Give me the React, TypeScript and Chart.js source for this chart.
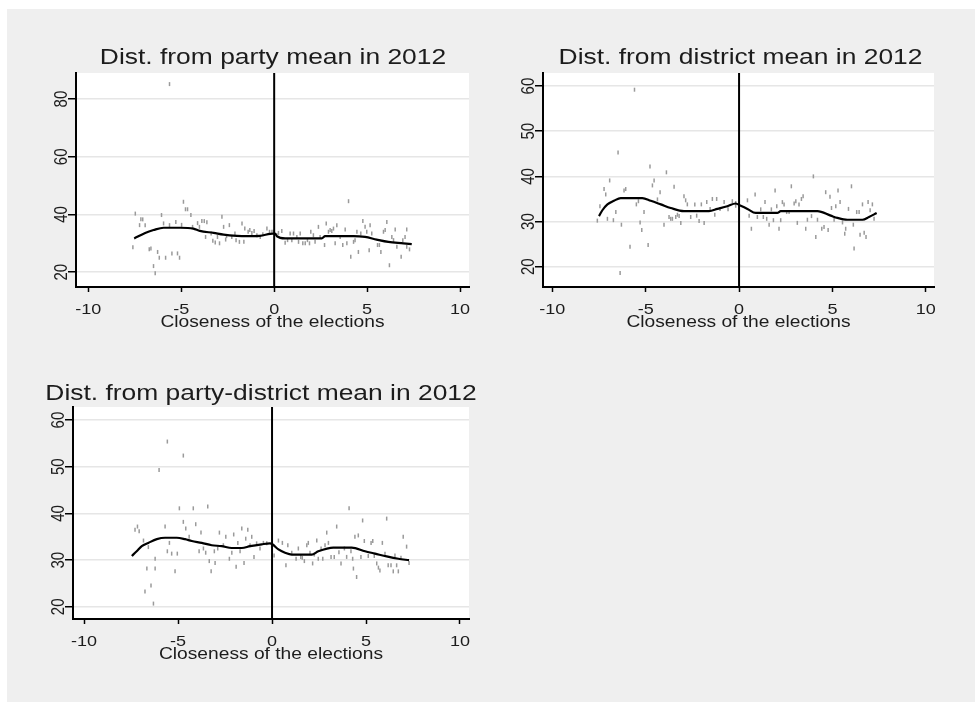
import React, { useEffect, useRef } from "react";
import Chart from "chart.js/auto";

type Pt = [number, number];

const FONT = '"Liberation Sans", Arial, sans-serif';
const X_TITLE = "Closeness of the elections";
const X_TICKS = [-10, -5, 0, 5, 10];
const Y_TICKS_PARTY = [20, 40, 60, 80];
const Y_TICKS_DISTRICT = [20, 30, 40, 50, 60];
const Y_TICKS_PD = [20, 30, 40, 50, 60];

const TITLE_PARTY = "Dist. from party mean in 2012";
const TITLE_DISTRICT = "Dist. from district mean in 2012";
const TITLE_PD = "Dist. from party-district mean in 2012";

const PARTY_POINTS: Pt[] = [
  [-7.6, 28.6], [-7.47, 40.3], [-7.24, 36.3], [-7.17, 38.3], [-7.07, 38.3], [-6.94, 36.3], [-6.72, 27.9], [-6.63, 28.2],
  [-6.49, 22.1], [-6.4, 19.6], [-6.27, 27.0], [-6.18, 25.0], [-6.06, 39.8], [-5.95, 36.9], [-5.84, 25.0], [-5.63, 36.3],
  [-5.63, 85.2], [-5.5, 26.5], [-5.29, 37.4], [-5.2, 26.5], [-5.09, 25.0], [-4.98, 36.4], [-4.88, 44.4], [-4.77, 41.8],
  [-4.66, 41.8], [-4.48, 39.8], [-4.39, 35.7], [-4.12, 37.0], [-4.02, 35.7], [-3.89, 37.7], [-3.76, 37.7], [-3.69, 32.2],
  [-3.62, 37.3], [-3.39, 33.4], [-3.3, 30.9], [-3.17, 30.3], [-3.05, 32.2], [-2.94, 30.0], [-2.81, 39.2], [-2.72, 35.7],
  [-2.61, 31.3], [-2.56, 32.5], [-2.41, 36.3], [-2.28, 32.2], [-2.11, 33.4], [-2.05, 31.1], [-1.87, 30.5], [-1.73, 36.9],
  [-1.63, 30.5], [-1.58, 35.1], [-1.4, 34.0], [-1.31, 34.6], [-1.2, 33.6], [-1.08, 34.3], [-0.93, 32.8], [-0.75, 32.2],
  [-0.61, 33.1], [-0.39, 35.1], [-0.25, 34.0], [-0.12, 34.0], [-0.04, 34.0], [0.15, 32.8], [0.23, 33.6], [0.41, 34.3],
  [0.59, 30.2], [0.72, 31.1], [0.86, 33.4], [0.95, 31.1], [1.04, 33.4], [1.22, 32.2], [1.31, 30.5], [1.4, 33.4],
  [1.54, 30.0], [1.67, 30.0], [1.79, 31.1], [1.9, 30.0], [1.97, 34.0], [2.11, 32.8], [2.2, 30.5], [2.38, 35.7],
  [2.47, 32.2], [2.71, 29.4], [2.8, 36.9], [2.92, 34.0], [3.01, 34.6], [3.1, 34.3], [3.19, 35.1], [3.28, 30.0],
  [3.37, 36.3], [3.55, 32.2], [3.69, 29.4], [3.82, 34.8], [3.91, 30.0], [4.0, 44.6], [4.12, 25.3], [4.27, 30.5],
  [4.35, 31.1], [4.45, 34.0], [4.53, 27.0], [4.66, 33.4], [4.77, 37.7], [4.89, 35.7], [4.98, 34.0], [5.11, 27.6],
  [5.16, 36.3], [5.25, 33.4], [5.56, 29.4], [5.66, 29.4], [5.74, 27.0], [5.88, 34.0], [5.97, 34.6], [6.06, 37.4],
  [6.2, 22.4], [6.33, 32.2], [6.42, 31.1], [6.51, 34.8], [6.6, 28.8], [6.83, 25.3], [6.92, 31.1], [7.04, 32.2],
  [7.13, 34.8], [7.13, 28.8], [7.28, 27.9],
];

const PARTY_SMOOTH: Pt[] = [
  [-7.53, 31.7], [-6.94, 33.6], [-6.49, 34.6], [-5.95, 35.4], [-5.05, 35.4], [-4.35, 35.1], [-4.0, 34.3], [-3.26, 33.6],
  [-2.72, 33.0], [-2.0, 32.6], [-1.47, 32.5], [-0.77, 32.6], [-0.22, 33.3], [0.05, 33.4], [0.14, 32.5], [0.59, 31.7],
  [1.58, 31.7], [2.56, 31.7], [2.74, 32.5], [3.37, 32.5], [4.27, 32.5], [4.89, 32.2], [5.51, 31.3], [6.14, 30.5],
  [6.95, 30.0], [7.4, 29.7],
];

const DISTRICT_POINTS: Pt[] = [
  [-7.59, 30.2], [-7.45, 33.4], [-7.23, 37.2], [-7.14, 36.0], [-7.05, 30.6], [-6.93, 39.1], [-6.73, 30.3], [-6.6, 32.1],
  [-6.48, 45.3], [-6.37, 18.6], [-6.3, 29.3], [-6.16, 36.9], [-6.07, 37.2], [-5.84, 24.4], [-5.6, 59.2], [-5.5, 33.8],
  [-5.39, 34.5], [-5.3, 29.8], [-5.21, 28.1], [-5.09, 32.1], [-4.87, 24.8], [-4.77, 42.2], [-4.64, 38.0], [-4.55, 39.1],
  [-4.37, 34.9], [-4.23, 36.5], [-4.02, 29.3], [-3.89, 40.9], [-3.75, 31.0], [-3.66, 30.6], [-3.57, 30.6], [-3.48, 37.7],
  [-3.39, 31.0], [-3.3, 31.5], [-3.21, 31.2], [-3.12, 29.7], [-2.95, 35.6], [-2.86, 34.7], [-2.77, 33.8], [-2.59, 31.0],
  [-2.37, 33.8], [-2.27, 31.3], [-2.14, 30.1], [-2.02, 33.8], [-1.87, 29.7], [-1.73, 34.3], [-1.55, 32.8], [-1.43, 35.0],
  [-1.3, 31.5], [-1.2, 35.0], [-1.02, 32.8], [-0.8, 34.3], [-0.59, 32.7], [-0.36, 34.5], [-0.18, 34.1], [-0.18, 33.5],
  [0.45, 34.7], [0.54, 31.3], [0.66, 28.4], [0.86, 36.0], [0.98, 31.0], [1.16, 32.7], [1.3, 31.0], [1.39, 34.3],
  [1.48, 30.6], [1.61, 29.3], [1.73, 32.7], [1.84, 30.3], [1.93, 36.9], [2.02, 33.4], [2.14, 28.4], [2.23, 30.3],
  [2.32, 34.3], [2.41, 33.8], [2.55, 32.1], [2.68, 32.1], [2.8, 37.8], [2.95, 34.0], [3.04, 34.5], [3.12, 29.7],
  [3.21, 33.8], [3.34, 35.0], [3.43, 35.6], [3.57, 28.4], [3.66, 30.4], [3.88, 31.2], [3.98, 40.0], [4.11, 26.6],
  [4.2, 30.4], [4.43, 28.4], [4.55, 28.8], [4.64, 36.5], [4.77, 28.1], [4.87, 35.5], [4.95, 33.0], [5.09, 30.4],
  [5.18, 33.4], [5.3, 36.9], [5.41, 34.3], [5.54, 29.8], [5.66, 27.3], [5.71, 28.4], [5.86, 32.8], [6.02, 37.8],
  [6.12, 29.3], [6.16, 24.0], [6.3, 32.1], [6.43, 32.1], [6.48, 27.1], [6.61, 33.8], [6.7, 27.5], [6.8, 26.6],
  [6.91, 34.3], [7.02, 32.5], [7.14, 33.8], [7.23, 30.6],
];

const DISTRICT_SMOOTH: Pt[] = [
  [-7.5, 31.2], [-7.32, 32.5], [-7.05, 33.8], [-6.7, 34.6], [-6.34, 35.2], [-5.8, 35.2], [-5.18, 35.2], [-4.73, 34.6],
  [-4.19, 33.8], [-3.66, 33.0], [-2.95, 32.3], [-2.23, 32.3], [-1.61, 32.3], [-1.16, 32.8], [-0.63, 33.4], [-0.18, 34.0],
  [0.09, 33.5], [0.45, 32.8], [0.89, 31.9], [2.05, 31.9], [2.23, 32.3], [3.3, 32.3], [4.2, 32.3], [4.91, 31.3],
  [5.27, 30.8], [5.8, 30.4], [6.61, 30.4], [6.96, 31.0], [7.37, 31.9],
];

const PD_POINTS: Pt[] = [
  [-7.29, 36.5], [-7.16, 37.2], [-7.07, 36.2], [-6.84, 34.2], [-6.76, 23.3], [-6.66, 28.2], [-6.58, 32.8], [-6.44, 24.6],
  [-6.31, 20.7], [-6.22, 30.3], [-6.22, 28.2], [-6.01, 49.3], [-5.69, 37.2], [-5.57, 55.4], [-5.57, 31.9], [-5.46, 33.7],
  [-5.34, 31.4], [-5.16, 27.6], [-5.04, 31.4], [-4.93, 41.1], [-4.72, 52.4], [-4.72, 38.2], [-4.59, 36.8], [-4.41, 35.0],
  [-4.19, 41.1], [-4.06, 37.7], [-3.88, 31.9], [-3.78, 35.9], [-3.65, 32.5], [-3.53, 31.6], [-3.42, 41.5], [-3.34, 29.8],
  [-3.24, 27.6], [-3.07, 31.9], [-3.03, 29.4], [-2.89, 32.5], [-2.8, 35.9], [-2.59, 33.2], [-2.46, 35.0], [-2.27, 30.3],
  [-2.14, 31.6], [-2.04, 35.5], [-1.91, 28.6], [-1.82, 33.7], [-1.7, 31.9], [-1.61, 36.8], [-1.49, 29.4], [-1.4, 34.6],
  [-1.29, 36.5], [-1.17, 33.2], [-1.08, 35.0], [-0.96, 30.7], [-0.82, 33.6], [-0.64, 32.5], [-0.46, 33.7], [-0.28, 33.6],
  [-0.02, 33.0], [0.11, 31.0], [0.34, 34.2], [0.55, 33.7], [0.74, 28.9], [0.84, 33.2], [1.05, 31.6], [1.28, 30.3],
  [1.4, 32.5], [1.53, 30.7], [1.61, 30.5], [1.72, 29.8], [1.85, 33.2], [1.93, 33.7], [2.02, 31.6], [2.16, 29.3],
  [2.25, 31.2], [2.38, 34.2], [2.46, 30.3], [2.61, 32.5], [2.7, 30.3], [2.82, 33.2], [2.91, 35.9], [3.0, 33.7],
  [3.14, 30.7], [3.31, 30.7], [3.44, 37.2], [3.56, 31.7], [3.67, 29.3], [3.85, 32.5], [3.97, 30.7], [4.1, 41.1],
  [4.2, 31.9], [4.29, 30.3], [4.33, 28.2], [4.41, 35.0], [4.5, 26.4], [4.59, 35.3], [4.73, 30.7], [4.82, 38.5],
  [4.91, 34.1], [5.12, 30.9], [5.27, 33.7], [5.36, 34.1], [5.44, 30.9], [5.57, 29.3], [5.66, 28.4], [5.74, 27.8],
  [5.87, 33.7], [6.01, 31.4], [6.1, 38.9], [6.18, 28.9], [6.33, 28.9], [6.45, 27.6], [6.54, 31.0], [6.63, 28.9],
  [6.72, 27.6], [6.86, 30.5], [6.98, 35.0], [7.16, 32.9], [7.29, 29.4],
];

const PD_SMOOTH: Pt[] = [
  [-7.46, 30.9], [-7.2, 31.9], [-6.93, 33.0], [-6.58, 33.7], [-6.13, 34.5], [-5.69, 34.8], [-5.07, 34.8], [-4.63, 34.5],
  [-4.27, 34.1], [-3.74, 33.7], [-3.21, 33.2], [-2.68, 33.0], [-2.14, 32.6], [-1.61, 32.6], [-1.17, 33.0], [-0.55, 33.4],
  [-0.11, 33.6], [0.02, 33.4], [0.34, 32.3], [0.69, 31.6], [1.05, 31.2], [2.11, 31.2], [2.46, 31.9], [3.26, 32.7],
  [4.24, 32.7], [4.95, 31.9], [5.48, 31.4], [6.1, 30.8], [6.72, 30.3], [7.29, 30.0],
];

interface PanelCfg {
  title: string;
  titleX: number;
  titleY: number;
  left: number;
  top: number;
  width: number;
  height: number;
  yAxisWidth: number;
  padTop: number;
  padRight: number;
  xMin: number;
  xMax: number;
  yMin: number;
  yMax: number;
  yTicks: number[];
  points: Pt[];
  smooth: Pt[];
}

const PANELS: PanelCfg[] = [
  {
    title: TITLE_PARTY, titleX: 253, titleY: 44,
    left: 20, top: 20, width: 480, height: 317, yAxisWidth: 56, padTop: 53, padRight: 31,
    xMin: -10.66, xMax: 10.48, yMin: 14.85, yMax: 89.05, yTicks: Y_TICKS_PARTY,
    points: PARTY_POINTS, smooth: PARTY_SMOOTH,
  },
  {
    title: TITLE_DISTRICT, titleX: 250.5, titleY: 44,
    left: 490, top: 20, width: 475, height: 317, yAxisWidth: 53, padTop: 53, padRight: 31,
    xMin: -10.5, xMax: 10.44, yMin: 15.5, yMax: 62.9, yTicks: Y_TICKS_DISTRICT,
    points: DISTRICT_POINTS, smooth: DISTRICT_SMOOTH,
  },
  {
    title: TITLE_PD, titleX: 241, titleY: 45,
    left: 20, top: 355, width: 480, height: 314, yAxisWidth: 53, padTop: 52, padRight: 31,
    xMin: -10.59, xMax: 10.48, yMin: 17.4, yMax: 62.8, yTicks: Y_TICKS_PD,
    points: PD_POINTS, smooth: PD_SMOOTH,
  },
];

// Text in the reference is drawn about 1.2x wider than tall; widen glyphs around their anchor.
const TEXT_STRETCH = 1.2;

const stretchTextPlugin = {
  id: "stretchText",
  afterInit(chart: any) {
    const ctx = chart.ctx;
    if (ctx.__stretched) return;
    ctx.__stretched = true;
    const orig = ctx.fillText;
    ctx.fillText = function (text: string, x: number, y: number, maxWidth?: number) {
      const m = this.getTransform();
      const p = m.transformPoint(new DOMPoint(x, y));
      this.save();
      const s = new DOMMatrix()
        .translate(p.x, p.y)
        .scale(TEXT_STRETCH, 1)
        .translate(-p.x, -p.y)
        .multiply(m);
      this.setTransform(s);
      if (maxWidth === undefined) orig.call(this, text, x, y);
      else orig.call(this, text, x, y, maxWidth / TEXT_STRETCH);
      this.restore();
    };
  },
};

const plotBgPlugin = {
  id: "plotBg",
  beforeDraw(chart: any) {
    const { ctx, chartArea } = chart;
    if (!chartArea) return;
    ctx.save();
    ctx.fillStyle = "#ffffff";
    ctx.fillRect(chartArea.left, chartArea.top, chartArea.right - chartArea.left, chartArea.bottom - chartArea.top);
    ctx.restore();
  },
};

const panelTitlePlugin = {
  id: "panelTitle",
  afterDraw(chart: any, _args: any, opts: any) {
    const ctx = chart.ctx;
    ctx.save();
    ctx.font = `22px ${FONT}`;
    ctx.fillStyle = "#1c1c1c";
    ctx.textAlign = "center";
    ctx.textBaseline = "alphabetic";
    ctx.fillText(opts.text, opts.x, opts.y);
    ctx.restore();
  },
};

function Panel({ cfg }: { cfg: PanelCfg }) {
  const ref = useRef<HTMLCanvasElement>(null);
  useEffect(() => {
    const canvas = ref.current;
    if (!canvas) return;
    const chart = new Chart(canvas, {
      type: "scatter",
      data: {
        datasets: [
          {
            label: "smooth",
            data: cfg.smooth.map(([x, y]) => ({ x, y })),
            showLine: true,
            borderColor: "#000000",
            borderWidth: 2.2,
            pointRadius: 0,
            cubicInterpolationMode: "monotone",
            fill: false,
          } as any,
          {
            label: "zero",
            data: [{ x: 0, y: cfg.yMin }, { x: 0, y: cfg.yMax }],
            showLine: true,
            borderColor: "#000000",
            borderWidth: 2,
            pointRadius: 0,
            fill: false,
          } as any,
          {
            label: "obs",
            data: cfg.points.map(([x, y]) => ({ x, y })),
            pointStyle: "line",
            pointRotation: 90,
            pointRadius: 2,
            pointBorderColor: "#9a9a9a",
            pointBackgroundColor: "#9a9a9a",
            pointBorderWidth: 1.5,
          } as any,
        ],
      },
      options: {
        responsive: false,
        animation: false,
        devicePixelRatio: 1,
        events: [],
        layout: { padding: { top: cfg.padTop, right: cfg.padRight, left: 0, bottom: 0 } },
        plugins: {
          legend: { display: false },
          tooltip: { enabled: false },
          title: { display: false },
          panelTitle: { text: cfg.title, x: cfg.titleX, y: cfg.titleY },
        } as any,
        scales: {
          x: {
            type: "linear",
            min: cfg.xMin,
            max: cfg.xMax,
            afterBuildTicks: (s: any) => {
              s.ticks = X_TICKS.map((v) => ({ value: v }));
            },
            afterFit: (s: any) => {
              s.height = 50;
            },
            grid: {
              drawOnChartArea: false,
              drawTicks: true,
              tickLength: 5,
              tickColor: "#000000",
              tickWidth: 1.5,
            },
            border: { display: true, color: "#000000", width: 2 },
            ticks: {
              autoSkip: false,
              maxRotation: 0,
              minRotation: 0,
              padding: 9,
              color: "#1c1c1c",
              font: { family: FONT, size: 15 },
            },
            title: {
              display: true,
              text: X_TITLE,
              color: "#1c1c1c",
              font: { family: FONT, size: 16 },
              padding: { top: 0, bottom: 5 },
            },
          },
          y: {
            type: "linear",
            min: cfg.yMin,
            max: cfg.yMax,
            afterBuildTicks: (s: any) => {
              s.ticks = cfg.yTicks.map((v) => ({ value: v }));
            },
            afterFit: (s: any) => {
              s.width = cfg.yAxisWidth;
            },
            grid: {
              color: "#e6e6e6",
              lineWidth: 1.5,
              drawTicks: true,
              tickLength: 8,
              tickColor: "#000000",
              tickWidth: 1.5,
            },
            border: { display: true, color: "#000000", width: 2 },
            ticks: {
              autoSkip: false,
              minRotation: 90,
              maxRotation: 90,
              crossAlign: "center",
              padding: -2,
              color: "#1c1c1c",
              font: { family: FONT, size: 15 },
            },
          },
        },
      } as any,
      plugins: [stretchTextPlugin, plotBgPlugin, panelTitlePlugin] as any,
    });
    return () => chart.destroy();
  }, [cfg]);
  return (
    <canvas
      ref={ref}
      width={cfg.width}
      height={cfg.height}
      style={{ position: "absolute", left: cfg.left, top: cfg.top, width: cfg.width, height: cfg.height }}
    />
  );
}

export default function App() {
  return (
    <div style={{ position: "absolute", left: 0, top: 0, width: 975, height: 702, background: "#ffffff", overflow: "hidden" }}>
      <div style={{ position: "absolute", left: 7, top: 9, right: 0, bottom: 0, background: "#efefef" }} />
      {PANELS.map((p, i) => (
        <Panel key={i} cfg={p} />
      ))}
    </div>
  );
}
